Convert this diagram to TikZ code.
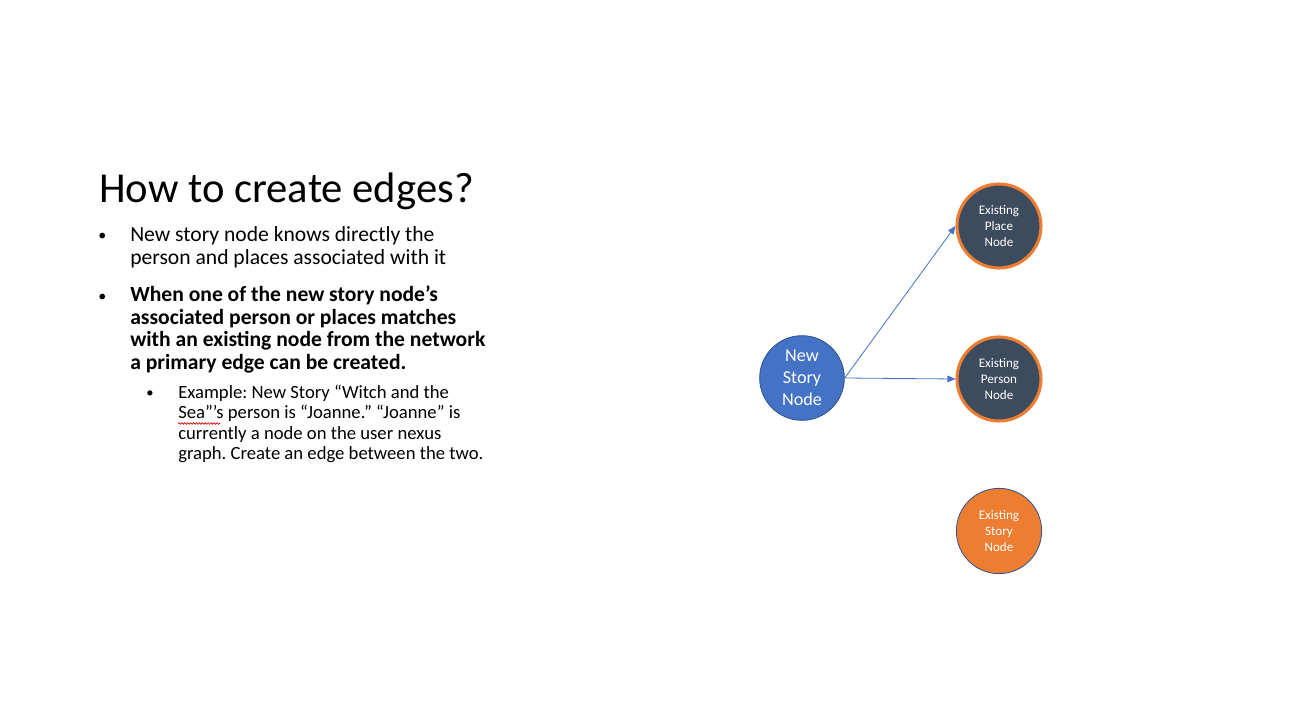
\documentclass[tikz,border=0pt]{standalone}
\usepackage{fontspec}
\setmainfont{Carlito}
\frenchspacing
\usetikzlibrary{arrows.meta,decorations.pathmorphing}
\definecolor{accblue}{HTML}{4472C4}
\definecolor{darkblue}{HTML}{2F528F}
\definecolor{slate}{HTML}{3D4B5F}
\definecolor{accorange}{HTML}{ED7D31}
\tikzset{
  body/.style={anchor=base west, inner sep=0pt, align=left, font=\fontsize{16.2}{16.9}\selectfont},
  subbody/.style={anchor=base west, inner sep=0pt, align=left, font=\fontsize{14}{15.2}\selectfont},
  dot/.style={anchor=base west, inner sep=0pt, font=\fontsize{12}{12}\selectfont},
  newnode/.style={circle, minimum size=63.5pt, inner sep=0pt, fill=accblue, draw=darkblue, line width=0.6pt,
    text=white, align=center, font=\fontsize{13.6}{16.5}\selectfont},
  oldnode/.style={circle, minimum size=63pt, inner sep=0pt, fill=slate, draw=accorange, line width=2.3pt,
    text=white, align=center, font=\fontsize{9.8}{12}\selectfont},
  storynode/.style={circle, minimum size=64pt, inner sep=0pt, fill=accorange, draw=darkblue, line width=0.6pt,
    text=white, align=center, font=\fontsize{9.8}{12}\selectfont},
  link/.style={draw=accblue, line width=0.6pt, -{Triangle[length=6pt,width=5pt]}}
}
\begin{document}
\begin{tikzpicture}[x=0.75pt,y=-0.75pt]
\useasboundingbox[fill=white] (0,0) rectangle (1293,728);

% slide title
\node[anchor=base west, inner sep=0pt, font=\fontsize{32}{36}\selectfont] (title) at (99,202.5) {How to create edges?};

% first bullet (multi-line nodes are placed by their last baseline)
\node[dot] (b1dot) at (98,240.5) {•};
\node[body] (b1) at (130,264.2) {New story node knows directly the\\person and places associated with it};

% second bullet
\node[dot] (b2dot) at (98,301) {•};
\node[body, font=\fontsize{16.2}{16.9}\selectfont\bfseries] (b2) at (130,369.5)
  {When one of the new story node’s\\associated person or places matches\\with an existing node from the network\\a primary edge can be created.};

% sub bullet
\node[dot, font=\fontsize{11}{11}\selectfont] (s1dot) at (146,397.5) {•};
\node[subbody] (s1) at (178,459.4)
  {Example: New Story “Witch and the\\Sea”’s person is “Joanne.” “Joanne” is\\currently a node on the user nexus\\graph. Create an edge between the two.};

% spell-check underline
\coordinate (sqa) at (178,423.5);
\coordinate (sqb) at (220,423.5);
\draw[red!85!black, line width=0.5pt, decorate, decoration={snake, amplitude=0.6pt, segment length=2.2pt}] (sqa) -- (sqb);

% graph
\node[newnode] (new) at (802,378) {New\\Story\\Node};
\node[oldnode] (place) at (999,226) {Existing\\Place\\Node};
\node[oldnode] (person) at (999,379) {Existing\\Person\\Node};
\node[storynode] (story) at (999,531) {Existing\\Story\\Node};

\draw[link] (new.east) -- (place.west);
\draw[link] (new.east) -- (person.west);
\end{tikzpicture}
\end{document}
